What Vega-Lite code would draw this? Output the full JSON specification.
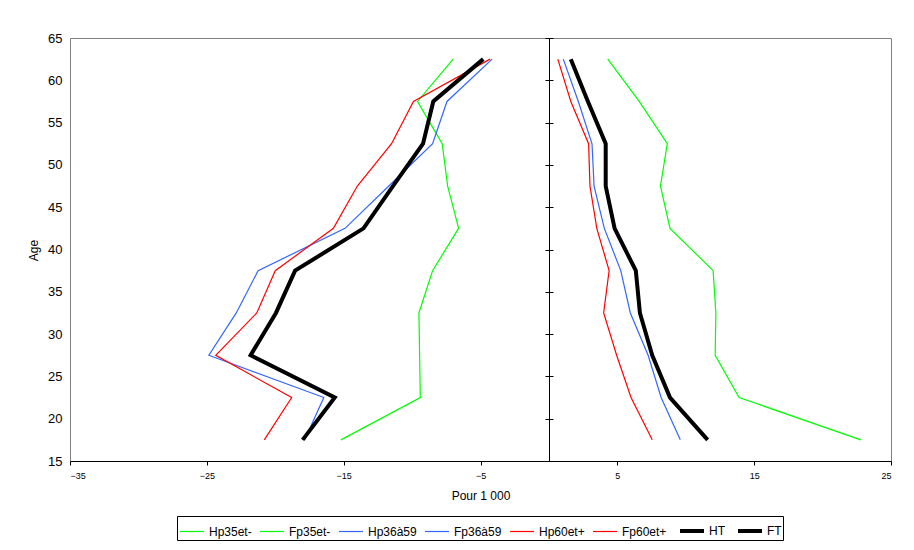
{
  "$schema": "https://vega.github.io/schema/vega-lite/v6.json",
  "width": 821,
  "height": 423,
  "autosize": "none",
  "padding": {"left": 70, "top": 38, "right": 23, "bottom": 89},
  "background": "white",
  "config": {
    "font": "Liberation Sans",
    "view": {"stroke": "#808080", "strokeWidth": 1},
    "axis": {
      "grid": false,
      "domainColor": "#000000",
      "tickColor": "#000000",
      "labelColor": "#000000",
      "titleColor": "#000000",
      "titleFontWeight": "normal",
      "labelFont": "Liberation Sans",
      "titleFont": "Liberation Sans"
    },
    "legend": {
      "orient": "none",
      "legendX": 107,
      "legendY": 478,
      "direction": "horizontal",
      "columns": 8,
      "fillColor": "white",
      "strokeColor": "#000000",
      "padding": 1,
      "symbolType": "stroke",
      "symbolSize": 576,
      "labelOffset": 3,
      "columnPadding": 5,
      "labelFontSize": 12,
      "labelColor": "#000000",
      "labelFont": "Liberation Sans",
      "labelLimit": 200
    }
  },
  "data": {
    "values": [
      {"s": "Hp35et-", "age": 17.5, "v": -15.2},
      {"s": "Hp35et-", "age": 22.5, "v": -9.4},
      {"s": "Hp35et-", "age": 27.5, "v": -9.45},
      {"s": "Hp35et-", "age": 32.5, "v": -9.5},
      {"s": "Hp35et-", "age": 37.5, "v": -8.5},
      {"s": "Hp35et-", "age": 42.5, "v": -6.6},
      {"s": "Hp35et-", "age": 47.5, "v": -7.4},
      {"s": "Hp35et-", "age": 52.5, "v": -7.8},
      {"s": "Hp35et-", "age": 57.5, "v": -9.6},
      {"s": "Hp35et-", "age": 62.5, "v": -7.0},
      {"s": "Fp35et-", "age": 17.5, "v": 22.8},
      {"s": "Fp35et-", "age": 22.5, "v": 13.9},
      {"s": "Fp35et-", "age": 27.5, "v": 12.15},
      {"s": "Fp35et-", "age": 32.5, "v": 12.2},
      {"s": "Fp35et-", "age": 37.5, "v": 12.0},
      {"s": "Fp35et-", "age": 42.5, "v": 8.85},
      {"s": "Fp35et-", "age": 47.5, "v": 8.15},
      {"s": "Fp35et-", "age": 52.5, "v": 8.65},
      {"s": "Fp35et-", "age": 57.5, "v": 6.6},
      {"s": "Fp35et-", "age": 62.5, "v": 4.3},
      {"s": "Hp36à59", "age": 17.5, "v": -17.85},
      {"s": "Hp36à59", "age": 22.5, "v": -16.45},
      {"s": "Hp36à59", "age": 27.5, "v": -24.85},
      {"s": "Hp36à59", "age": 32.5, "v": -22.85},
      {"s": "Hp36à59", "age": 37.5, "v": -21.25},
      {"s": "Hp36à59", "age": 42.5, "v": -14.9},
      {"s": "Hp36à59", "age": 47.5, "v": -11.7},
      {"s": "Hp36à59", "age": 52.5, "v": -8.5},
      {"s": "Hp36à59", "age": 57.5, "v": -7.45},
      {"s": "Hp36à59", "age": 62.5, "v": -4.15},
      {"s": "Fp36à59", "age": 17.5, "v": 9.6},
      {"s": "Fp36à59", "age": 22.5, "v": 8.2},
      {"s": "Fp36à59", "age": 27.5, "v": 7.25},
      {"s": "Fp36à59", "age": 32.5, "v": 5.95},
      {"s": "Fp36à59", "age": 37.5, "v": 5.25},
      {"s": "Fp36à59", "age": 42.5, "v": 4.05},
      {"s": "Fp36à59", "age": 47.5, "v": 3.3},
      {"s": "Fp36à59", "age": 52.5, "v": 3.15},
      {"s": "Fp36à59", "age": 57.5, "v": 2.15},
      {"s": "Fp36à59", "age": 62.5, "v": 1.05},
      {"s": "Hp60et+", "age": 17.5, "v": -20.8},
      {"s": "Hp60et+", "age": 22.5, "v": -18.8},
      {"s": "Hp60et+", "age": 27.5, "v": -24.35},
      {"s": "Hp60et+", "age": 32.5, "v": -21.35},
      {"s": "Hp60et+", "age": 37.5, "v": -20.0},
      {"s": "Hp60et+", "age": 42.5, "v": -15.75},
      {"s": "Hp60et+", "age": 47.5, "v": -14.0},
      {"s": "Hp60et+", "age": 52.5, "v": -11.5},
      {"s": "Hp60et+", "age": 57.5, "v": -9.9},
      {"s": "Hp60et+", "age": 62.5, "v": -4.3},
      {"s": "Fp60et+", "age": 17.5, "v": 7.55},
      {"s": "Fp60et+", "age": 22.5, "v": 6.0},
      {"s": "Fp60et+", "age": 27.5, "v": 4.95},
      {"s": "Fp60et+", "age": 32.5, "v": 4.0},
      {"s": "Fp60et+", "age": 37.5, "v": 4.4},
      {"s": "Fp60et+", "age": 42.5, "v": 3.5},
      {"s": "Fp60et+", "age": 47.5, "v": 3.0},
      {"s": "Fp60et+", "age": 52.5, "v": 2.9},
      {"s": "Fp60et+", "age": 57.5, "v": 1.6},
      {"s": "Fp60et+", "age": 62.5, "v": 0.65},
      {"s": "HT", "age": 17.5, "v": -18.0},
      {"s": "HT", "age": 22.5, "v": -15.65},
      {"s": "HT", "age": 27.5, "v": -21.8},
      {"s": "HT", "age": 32.5, "v": -19.95},
      {"s": "HT", "age": 37.5, "v": -18.55},
      {"s": "HT", "age": 42.5, "v": -13.55},
      {"s": "HT", "age": 47.5, "v": -11.4},
      {"s": "HT", "age": 52.5, "v": -9.2},
      {"s": "HT", "age": 57.5, "v": -8.45},
      {"s": "HT", "age": 62.5, "v": -4.8},
      {"s": "FT", "age": 17.5, "v": 11.6},
      {"s": "FT", "age": 22.5, "v": 8.85},
      {"s": "FT", "age": 27.5, "v": 7.55},
      {"s": "FT", "age": 32.5, "v": 6.65},
      {"s": "FT", "age": 37.5, "v": 6.35},
      {"s": "FT", "age": 42.5, "v": 4.8},
      {"s": "FT", "age": 47.5, "v": 4.15},
      {"s": "FT", "age": 52.5, "v": 4.15},
      {"s": "FT", "age": 57.5, "v": 2.85},
      {"s": "FT", "age": 62.5, "v": 1.6}
    ]
  },
  "layer": [
    {
      "transform": [{"filter": {"field": "s", "oneOf": ["Hp35et-", "Hp36à59", "Hp60et+", "HT"]}}],
      "mark": {"type": "line"},
      "encoding": {
        "x": {
          "field": "v", "type": "quantitative",
          "scale": {"domain": [-35, 25], "nice": false, "zero": false},
          "axis": {"values": [-35, -25, -15, -5, 5, 15, 25], "tickSize": 4, "labelPadding": 6, "labelFontSize": 9, "title": "Pour 1 000", "titleFontSize": 12, "titlePadding": 10}
        },
        "y": {
          "field": "age", "type": "quantitative",
          "scale": {"domain": [15, 65], "nice": false, "zero": false},
          "axis": {"orient": "left", "offset": -479, "values": [15, 20, 25, 30, 35, 40, 45, 50, 55, 60, 65], "tickSize": 4, "labelPadding": 483, "labelFontSize": 13, "title": "Age", "titleFontSize": 12, "titleX": -516, "titleY": 212, "titleAngle": 270, "titleAlign": "center", "titleBaseline": "middle"}
        },
        "order": {"field": "age", "type": "quantitative"},
        "color": {
          "field": "s", "type": "nominal", "title": null,
          "scale": {"domain": ["Hp35et-", "Fp35et-", "Hp36à59", "Fp36à59", "Hp60et+", "Fp60et+", "HT", "FT"], "range": ["#00ff00", "#00ff00", "#3366ff", "#3366ff", "#ff0000", "#ff0000", "#000000", "#000000"]}
        },
        "strokeWidth": {
          "field": "s", "type": "nominal", "title": null,
          "scale": {"type": "ordinal", "domain": ["Hp35et-", "Fp35et-", "Hp36à59", "Fp36à59", "Hp60et+", "Fp60et+", "HT", "FT"], "range": [1.2, 1.2, 1.2, 1.2, 1.2, 1.2, 4, 4]}
        }
      }
    },
    {
      "transform": [{"filter": {"field": "s", "oneOf": ["Fp35et-", "Fp36à59", "Fp60et+", "FT"]}}],
      "mark": {"type": "line"},
      "encoding": {
        "x": {
          "field": "v", "type": "quantitative",
          "scale": {"domain": [-35, 25], "nice": false, "zero": false}
        },
        "y": {
          "field": "age", "type": "quantitative",
          "scale": {"domain": [15, 65], "nice": false, "zero": false},
          "axis": {"orient": "right", "offset": -342, "values": [15, 20, 25, 30, 35, 40, 45, 50, 55, 60, 65], "tickSize": 4, "labels": false, "domain": false, "title": null}
        },
        "order": {"field": "age", "type": "quantitative"},
        "color": {
          "field": "s", "type": "nominal", "title": null,
          "scale": {"domain": ["Hp35et-", "Fp35et-", "Hp36à59", "Fp36à59", "Hp60et+", "Fp60et+", "HT", "FT"], "range": ["#00ff00", "#00ff00", "#3366ff", "#3366ff", "#ff0000", "#ff0000", "#000000", "#000000"]}
        },
        "strokeWidth": {
          "field": "s", "type": "nominal", "title": null,
          "scale": {"type": "ordinal", "domain": ["Hp35et-", "Fp35et-", "Hp36à59", "Fp36à59", "Hp60et+", "Fp60et+", "HT", "FT"], "range": [1.2, 1.2, 1.2, 1.2, 1.2, 1.2, 4, 4]}
        }
      }
    }
  ],
  "resolve": {"axis": {"y": "independent"}}
}
